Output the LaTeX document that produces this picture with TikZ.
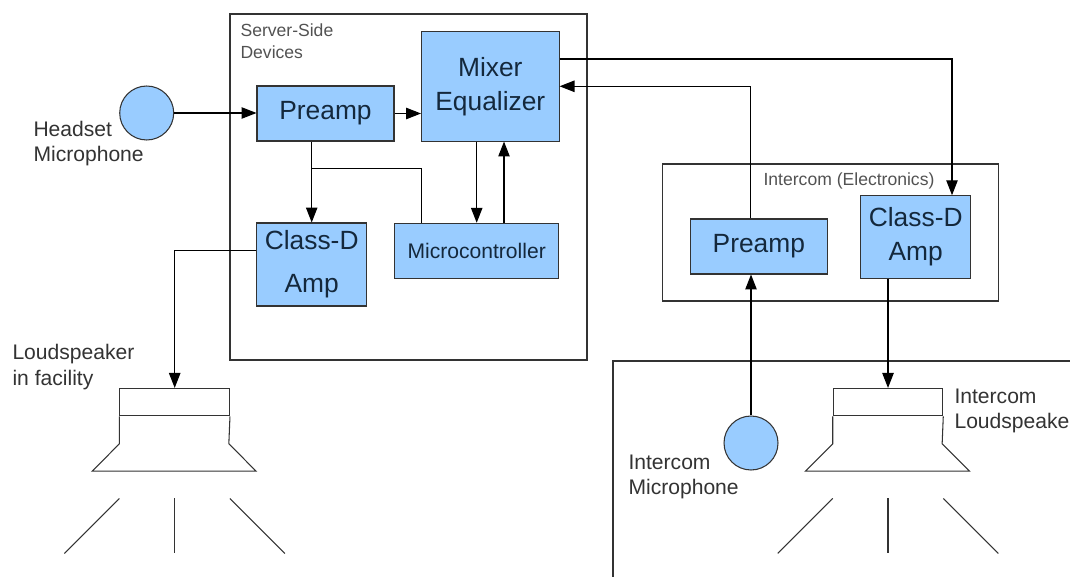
\documentclass[tikz,border=0pt]{standalone}
\usepackage{fontspec}
\setmainfont{Liberation Sans}
\usetikzlibrary{arrows.meta, positioning, calc}
\definecolor{boxblue}{HTML}{99CCFF}
\definecolor{boxtext}{HTML}{14283C}
\definecolor{labelgray}{HTML}{333333}
\definecolor{framegray}{HTML}{333333}

\begin{document}
\begin{tikzpicture}
            [x=0.02cm, y=-0.02cm, line width=0.6pt, >={Triangle[length=8.5pt,width=6.5pt]},
            block/.style={rectangle, align=center, draw=framegray, fill=boxblue, text=boxtext,
                inner sep=0pt, font=\fontsize{15}{19.4}\selectfont},
            mic/.style={circle, draw=framegray, fill=boxblue, minimum size=1.08cm, inner sep=0pt},
            cone/.style={rectangle, draw=framegray, minimum width=2.19cm, minimum height=0.55cm, inner sep=0pt},
            caption/.style={align=left, anchor=west, inner sep=0pt, text=labelgray,
                font=\fontsize{12}{14.5}\selectfont},
            group/.style={align=left, inner sep=0pt, text=labelgray!85,
                font=\fontsize{10}{12.7}\selectfont}]

            \useasboundingbox (0,0) rectangle (1070,577);
            \clip (0,0) rectangle (1070,577);

            % frames
            \draw[framegray] (230,14) rectangle (587,360);
            \draw[framegray] (662.7,164) rectangle (998.3,301);
            \draw[framegray] (613,600) -- (613,361) -- (1100,361);

            % server side
            \node[mic] (hmic) at (146.7,113) {};
            \node[block, minimum width=2.74cm, minimum height=1.1cm] (pre) at (325.5,113.5) {Preamp};
            \node[block, minimum width=2.75cm, minimum height=2.19cm] (mix) at (490.3,86.3) {Mixer\\Equalizer};
            \node[block, minimum width=2.2cm, minimum height=1.66cm,
                font=\fontsize{15}{24.3}\selectfont] (amp) at (311.7,264.5) {Class-D\\Amp};
            \node[block, minimum width=3.29cm, minimum height=1.1cm,
                font=\fontsize{12}{14}\selectfont] (mcu) at (476.7,250.8) {Microcontroller};

            % intercom side
            \node[block, minimum width=2.75cm, minimum height=1.1cm] (ipre) at (758.8,246.5) {Preamp};
            \node[block, minimum width=2.2cm, minimum height=1.65cm] (iamp) at (915.7,237) {Class-D\\Amp};
            \node[mic] (imic) at (751,443) {};

            % loudspeakers
            \node[cone] (spk) at (174.7,402.2) {};
            \node[cone] (ispk) at (888,402.2) {};
            \foreach \s in {spk, ispk} {
                \draw[framegray] (\s.south west) -- ++(0,27.3) -- ++(-27.3,27.4) -- ++(164,0)
                    -- ++(-27.3,-27.4) -- (\s.south east);
                \draw[framegray] ($(\s.south west)+(0,82)$) -- ++(-55,55);
                \draw[framegray] ($(\s.south)+(0,82)$) -- ++(0,55);
                \draw[framegray] ($(\s.south east)+(0,82)$) -- ++(55,55);
            }

            % labels
            \node[caption] (hmiclbl) at (33,143.5) {Headset\\Microphone};
            \node[caption] (spklbl) at (12,367) {Loudspeaker\\in facility};
            \node[caption] (imiclbl) at (628,477) {Intercom\\Microphone};
            \node[caption] (ispklbl) at (954,411) {Intercom\\Loudspeaker};
            \node[group, anchor=west] (serverlbl) at (240,41.5) {Server-Side\\Devices};
            \node[group, anchor=base] (intercomlbl) at (849,186) {Intercom (Electronics)};

            % signal paths
            \draw[->] (hmic) -- (hmic -| pre.west);
            \draw[->] (pre.east) -- (pre.east -| mix.west);
            \draw[->] (pre.south -| amp.north) -- (amp.north);
            \coordinate (split) at ($(pre.south -| amp.north)+(0,27)$);
            \draw (split) -| ($(mcu.north west)+(27.4,0)$);
            \draw[->] (mix.south -| mcu.north) -- (mcu.north);
            \coordinate (back) at ($(mcu.north)+(27.3,0)$);
            \draw[->] (back) -- (back |- mix.south);
            \draw[->] ($(amp.west)+(0,-14)$) -| (spk.north);
            \draw[->] ($(mix.east)+(0,-27.3)$) -| ($(iamp.north)+(36.3,0)$);
            \draw[->] ($(ipre.north)+(-8,0)$) |- (mix.east);
            \draw[->] (imic) -- (imic |- ipre.south);
            \draw[->] (iamp.south -| ispk.north) -- (ispk.north);
        \end{tikzpicture}
\end{document}
